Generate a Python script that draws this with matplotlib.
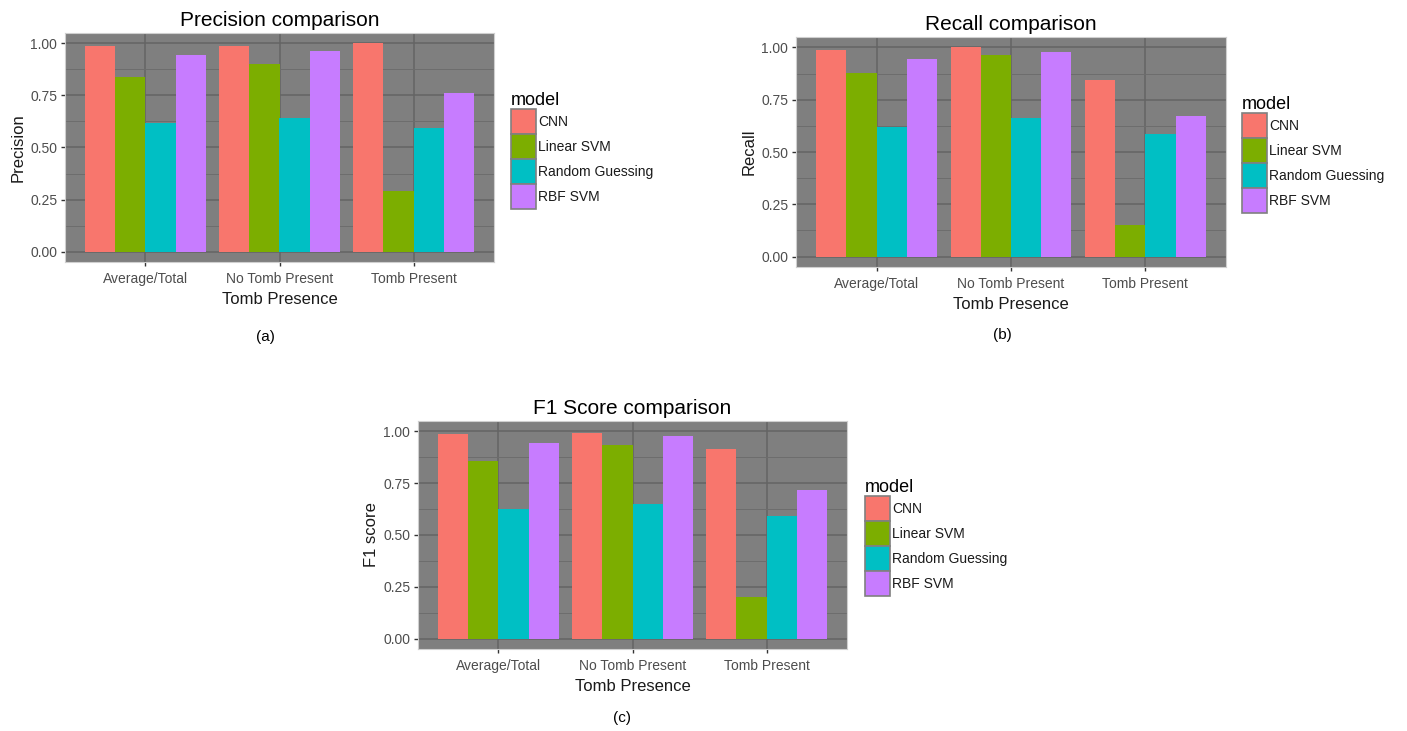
import matplotlib.pyplot as plt
import numpy as np
from matplotlib.patches import Patch
from matplotlib.ticker import MultipleLocator

plt.rcParams['font.family'] = ['Liberation Sans', 'DejaVu Sans']

# data
groups = ["Average/Total", "No Tomb Present", "Tomb Present"]
models = ["CNN", "Linear SVM", "Random Guessing", "RBF SVM"]
colors = ["#F8766D", "#7CAE00", "#00BFC4", "#C77CFF"]

precision = {
    "CNN": [0.986, 0.986, 1.000],
    "Linear SVM": [0.841, 0.901, 0.293],
    "Random Guessing": [0.620, 0.643, 0.593],
    "RBF SVM": [0.942, 0.963, 0.763],
}
recall = {
    "CNN": [0.987, 1.000, 0.844],
    "Linear SVM": [0.876, 0.966, 0.151],
    "Random Guessing": [0.621, 0.665, 0.586],
    "RBF SVM": [0.945, 0.978, 0.674],
}
f1 = {
    "CNN": [0.986, 0.990, 0.913],
    "Linear SVM": [0.855, 0.933, 0.200],
    "Random Guessing": [0.625, 0.650, 0.593],
    "RBF SVM": [0.944, 0.976, 0.715],
}

W, H = 1407, 731
fig = plt.figure(figsize=(W / 100, H / 100), dpi=100)


def px_axes(l, t, r, b):
    return fig.add_axes([l / W, 1 - b / H, (r - l) / W, (b - t) / H])


def draw_panel(ax, values, title, ylabel, leg_xy):
    ax.set_facecolor("#7f7f7f")
    x = np.arange(1, len(groups) + 1)
    bw = 0.9 / len(models)
    for i, m in enumerate(models):
        ax.bar(x - 0.45 + bw * (i + 0.5), values[m], width=bw,
               color=colors[i], linewidth=0, zorder=3)
    ax.set_xlim(0.4, 3.6)
    ax.set_ylim(-0.05, 1.05)
    ax.set_xticks(x)
    ax.set_xticklabels(groups)
    ax.yaxis.set_major_locator(MultipleLocator(0.25))
    ax.yaxis.set_minor_locator(MultipleLocator(0.125))
    ax.yaxis.set_major_formatter(lambda v, p: f"{v:.2f}")
    ax.set_axisbelow(True)
    ax.grid(which="major", color="#646464", linewidth=1.1, zorder=0)
    ax.grid(which="minor", axis="y", color="#6d6d6d", linewidth=0.7, zorder=0)
    ax.tick_params(which="major", length=3, width=1, color="#333333",
                   labelsize=10, labelcolor="#4d4d4d", pad=2.5)
    ax.tick_params(axis="x", which="major", pad=4.5)
    ax.tick_params(which="minor", length=0)
    for s in ax.spines.values():
        s.set_color("#cfcfcf")
        s.set_linewidth(0.8)
    ax.set_title(title, fontsize=15, pad=5)
    ax.set_xlabel("Tomb Presence", fontsize=12, labelpad=4, color="#1a1a1a")
    ax.set_ylabel(ylabel, fontsize=12, labelpad=3, color="#1a1a1a")
    handles = [Patch(facecolor=c, edgecolor="#808080", linewidth=1.2, label=m)
               for m, c in zip(models, colors)]
    leg = ax.legend(handles=handles, title="model", loc="upper left",
                    bbox_to_anchor=(leg_xy[0] / W, 1 - leg_xy[1] / H),
                    bbox_transform=fig.transFigure, frameon=False,
                    fontsize=10, title_fontsize=13, borderpad=0,
                    handlelength=1.8, handleheight=2.39, labelspacing=0,
                    handletextpad=0.15, borderaxespad=0)
    leg._legend_box.align = "left"
    for t in leg.get_texts():
        t.set_color("#1a1a1a")


ax_a = px_axes(65, 33, 494, 262)
draw_panel(ax_a, precision, "Precision comparison", "Precision", (511, 92))
ax_b = px_axes(796, 37, 1226, 267)
draw_panel(ax_b, recall, "Recall comparison", "Recall", (1242, 96))
ax_c = px_axes(418, 421, 847, 649)
draw_panel(ax_c, f1, "F1 Score comparison", "F1 score", (865, 479))

fig.text(265 / W, 1 - 337 / H, "(a)", fontsize=11, ha="center", va="center")
fig.text(1002 / W, 1 - 335 / H, "(b)", fontsize=11, ha="center", va="center")
fig.text(622 / W, 1 - 718 / H, "(c)", fontsize=11, ha="center", va="center")

fig.savefig("out.png", dpi=100, facecolor="white")
